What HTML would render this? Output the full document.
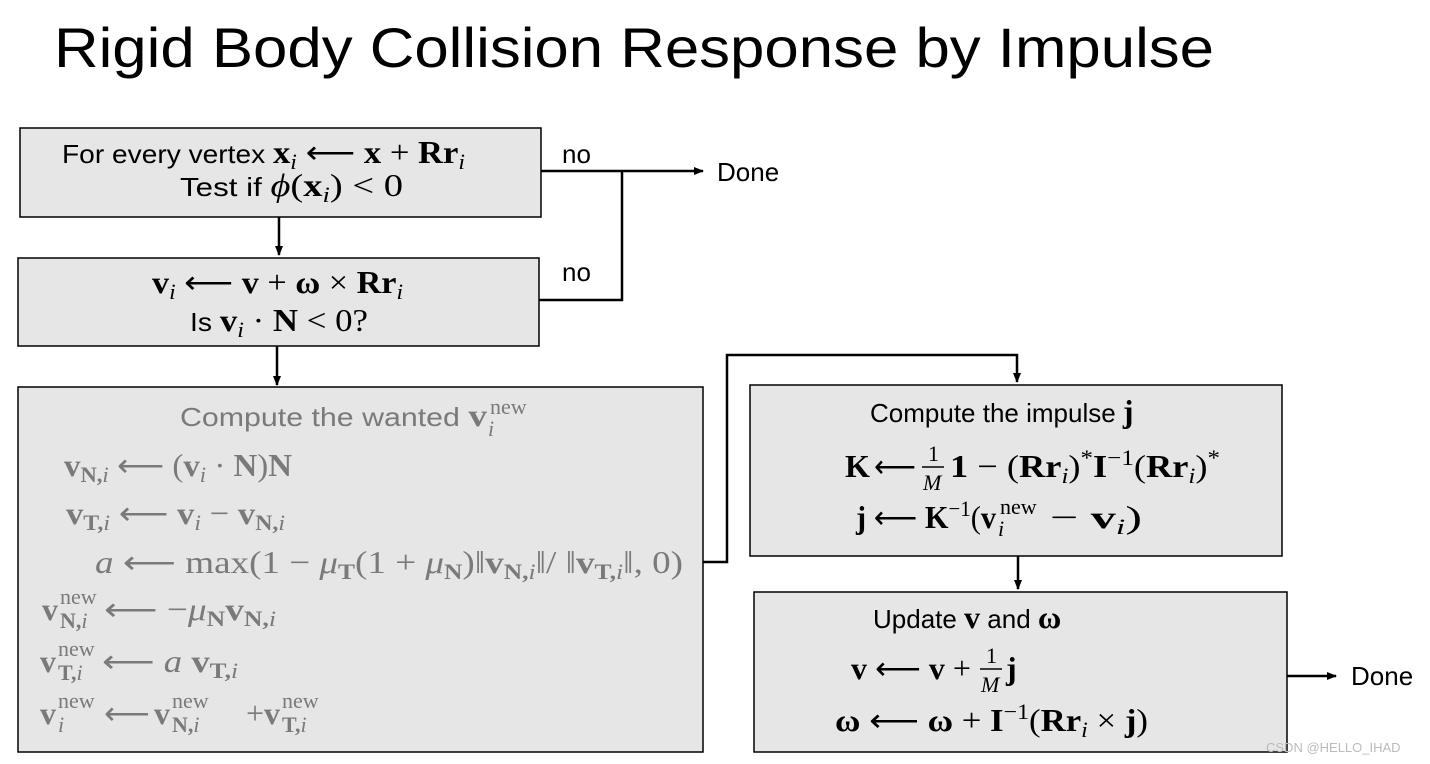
<!DOCTYPE html>
<html><head><meta charset="utf-8"><style>
body{margin:0;background:#fff;}
svg{display:block}
text{white-space:pre}
.t{font-family:"Liberation Sans",sans-serif;font-size:26px;fill:#000}
.m{font-family:"Liberation Serif",serif;font-size:32px;fill:#000}
.g{fill:#7a7a7a}
.b{font-weight:bold}
.i{font-style:italic}
.s{font-size:22px}
</style></head><body>
<svg width="1430" height="764" xmlns="http://www.w3.org/2000/svg">
<defs><marker id="a" markerWidth="10" markerHeight="10" refX="9" refY="5" orient="auto" markerUnits="userSpaceOnUse"><path d="M0,1 L10,5 L0,9z" fill="#000"/></marker></defs>
<text x="54" y="67" textLength="1160" lengthAdjust="spacingAndGlyphs" style="font-family:'Liberation Sans',sans-serif;font-size:56px">Rigid Body Collision Response by Impulse</text>
<g fill="#e6e6e6" stroke="#000" stroke-width="1.5">
<rect x="20" y="128" width="521" height="89"/>
<rect x="18" y="258" width="521" height="88"/>
<rect x="18" y="387" width="685" height="365"/>
<rect x="750" y="385" width="532" height="171"/>
<rect x="754" y="592" width="533" height="160"/>
</g>
<g stroke="#000" stroke-width="2.5" fill="none">
<path d="M541 171 H703" marker-end="url(#a)"/>
<path d="M539 300 H622 V171"/>
<path d="M279 217 V255" marker-end="url(#a)"/>
<path d="M277 346 V385" marker-end="url(#a)"/>
<path d="M703 562 H727 V355 H1017 V382" marker-end="url(#a)"/>
<path d="M1018 556 V589" marker-end="url(#a)"/>
<path d="M1287 676 H1336" marker-end="url(#a)"/>
</g>
<text class="t" x="562" y="163">no</text>
<text class="t" x="562" y="281">no</text>
<text class="t" x="717" y="181">Done</text>
<text class="t" x="1351" y="685">Done</text>

<text class="t" x="62" y="163" textLength="403" lengthAdjust="spacingAndGlyphs">For every vertex <tspan class="m b">x</tspan><tspan class="m i s" dy="6">i</tspan><tspan class="m" dy="-6"> ⟵ </tspan><tspan class="m b">x</tspan><tspan class="m"> + </tspan><tspan class="m b">Rr</tspan><tspan class="m i s" dy="6">i</tspan></text>
<text class="t" x="180" y="196" textLength="223" lengthAdjust="spacingAndGlyphs">Test if <tspan class="m i">ϕ</tspan><tspan class="m">(</tspan><tspan class="m b">x</tspan><tspan class="m i s" dy="6">i</tspan><tspan class="m" dy="-6">) &lt; 0</tspan></text>
<text class="m" x="152" y="293" textLength="251" lengthAdjust="spacingAndGlyphs"><tspan class="b">v</tspan><tspan class="i s" dy="6">i</tspan><tspan dy="-6"> ⟵ </tspan><tspan class="b">v</tspan> + <tspan class="b">ω</tspan> × <tspan class="b">Rr</tspan><tspan class="i s" dy="6">i</tspan></text>
<text class="t" x="190" y="331" textLength="178" lengthAdjust="spacingAndGlyphs">Is <tspan class="m b">v</tspan><tspan class="m i s" dy="6">i</tspan><tspan class="m" dy="-6"> · </tspan><tspan class="m b">N</tspan><tspan class="m"> &lt; 0?</tspan></text>

<text class="t g" x="180" y="426" textLength="307" lengthAdjust="spacingAndGlyphs">Compute the wanted <tspan class="m b g">v</tspan></text>
<text class="m s g" x="490" y="414">new</text><text class="m s g i" x="488" y="436">i</text>

<text class="m g" x="64" y="476" textLength="228" lengthAdjust="spacingAndGlyphs"><tspan class="b">v</tspan><tspan class="s b" dy="6">N,</tspan><tspan class="s i">i</tspan><tspan dy="-6"> ⟵ (</tspan><tspan class="b">v</tspan><tspan class="i s" dy="6">i</tspan><tspan dy="-6"> · </tspan><tspan class="b">N</tspan>)<tspan class="b">N</tspan></text>
<text class="m g" x="66" y="524" textLength="219" lengthAdjust="spacingAndGlyphs"><tspan class="b">v</tspan><tspan class="s b" dy="6">T,</tspan><tspan class="s i">i</tspan><tspan dy="-6"> ⟵ </tspan><tspan class="b">v</tspan><tspan class="i s" dy="6">i</tspan><tspan dy="-6"> − </tspan><tspan class="b">v</tspan><tspan class="s b" dy="6">N,</tspan><tspan class="s i">i</tspan></text>
<text class="m g" x="95" y="573" textLength="588" lengthAdjust="spacingAndGlyphs"><tspan class="i">a</tspan> ⟵ max(1 − <tspan class="i">μ</tspan><tspan class="s b" dy="6">T</tspan><tspan dy="-6">(1 + </tspan><tspan class="i">μ</tspan><tspan class="s b" dy="6">N</tspan><tspan dy="-6">)‖</tspan><tspan class="b">v</tspan><tspan class="s b" dy="6">N,</tspan><tspan class="s i">i</tspan><tspan dy="-6">‖/ ‖</tspan><tspan class="b">v</tspan><tspan class="s b" dy="6">T,</tspan><tspan class="s i">i</tspan><tspan dy="-6">‖, 0)</tspan></text>

<text class="m g b" x="42" y="620">v</text><text class="m s g" x="60" y="604">new</text><text class="m s g" x="60" y="628"><tspan class="b">N,</tspan><tspan class="i">i</tspan></text>
<text class="m g" x="104" y="620" textLength="172" lengthAdjust="spacingAndGlyphs">⟵ −<tspan class="i">μ</tspan><tspan class="s b" dy="6">N</tspan><tspan class="b" dy="-6">v</tspan><tspan class="s b" dy="6">N,</tspan><tspan class="s i">i</tspan></text>

<text class="m g b" x="40" y="672">v</text><text class="m s g" x="58" y="656">new</text><text class="m s g" x="58" y="680"><tspan class="b">T,</tspan><tspan class="i">i</tspan></text>
<text class="m g" x="102" y="672" textLength="136" lengthAdjust="spacingAndGlyphs">⟵ <tspan class="i">a</tspan> <tspan class="b">v</tspan><tspan class="s b" dy="6">T,</tspan><tspan class="s i">i</tspan></text>

<text class="m g b" x="40" y="724">v</text><text class="m s g" x="58" y="708">new</text><text class="m s g i" x="58" y="732">i</text>
<text class="m g" x="104" y="724">⟵</text>
<text class="m g b" x="154" y="724">v</text><text class="m s g" x="172" y="708">new</text><text class="m s g" x="172" y="732"><tspan class="b">N,</tspan><tspan class="i">i</tspan></text>
<text class="m g" x="246" y="724">+</text>
<text class="m g b" x="264" y="724">v</text><text class="m s g" x="282" y="708">new</text><text class="m s g" x="282" y="732"><tspan class="b">T,</tspan><tspan class="i">i</tspan></text>

<text class="t" x="870" y="422">Compute the impulse <tspan class="m b">j</tspan></text>
<text class="m b" x="845" y="477">K</text><text class="m" x="874" y="477" textLength="42" lengthAdjust="spacingAndGlyphs">⟵</text>
<text class="m s" x="928" y="461">1</text><line x1="922" y1="467" x2="944" y2="467" stroke="#000" stroke-width="1.5"/><text class="m s i" x="923" y="490">M</text>
<text class="m" x="950" y="477" textLength="270" lengthAdjust="spacingAndGlyphs"><tspan class="b">1</tspan> − (<tspan class="b">Rr</tspan><tspan class="i s" dy="6">i</tspan><tspan dy="-6">)</tspan><tspan class="s" dy="-12">*</tspan><tspan class="b" dy="12">I</tspan><tspan class="s" dy="-12">−1</tspan><tspan dy="12">(</tspan><tspan class="b">Rr</tspan><tspan class="i s" dy="6">i</tspan><tspan dy="-6">)</tspan><tspan class="s" dy="-12">*</tspan></text>
<text class="m" x="856" y="528" textLength="140" lengthAdjust="spacingAndGlyphs"><tspan class="b">j</tspan> ⟵ <tspan class="b">K</tspan><tspan class="s" dy="-12">−1</tspan><tspan dy="12">(</tspan><tspan class="b">v</tspan></text>
<text class="m s" x="1000" y="514">new</text><text class="m s i" x="998" y="536">i</text>
<text class="m" x="1050" y="528" textLength="92" lengthAdjust="spacingAndGlyphs">− <tspan class="b">v</tspan><tspan class="i s" dy="6">i</tspan><tspan dy="-6">)</tspan></text>

<text class="t" x="873" y="628">Update <tspan class="m b">v</tspan> and <tspan class="m b">ω</tspan></text>
<text class="m" x="851" y="679" textLength="120" lengthAdjust="spacingAndGlyphs"><tspan class="b">v</tspan> ⟵ <tspan class="b">v</tspan> +</text>
<text class="m s" x="986" y="663">1</text><line x1="980" y1="669" x2="1002" y2="669" stroke="#000" stroke-width="1.5"/><text class="m s i" x="981" y="692">M</text>
<text class="m b" x="1006" y="679">j</text>
<text class="m" x="835" y="731" textLength="313" lengthAdjust="spacingAndGlyphs"><tspan class="b">ω</tspan> ⟵ <tspan class="b">ω</tspan> + <tspan class="b">I</tspan><tspan class="s" dy="-12">−1</tspan><tspan dy="12">(</tspan><tspan class="b">Rr</tspan><tspan class="i s" dy="6">i</tspan><tspan dy="-6"> × </tspan><tspan class="b">j</tspan>)</text>
<text x="1266" y="752" style="font-family:'Liberation Sans',sans-serif;font-size:13px;fill:#bbb">CSDN @HELLO_IHAD</text>
</svg>
</body></html>
